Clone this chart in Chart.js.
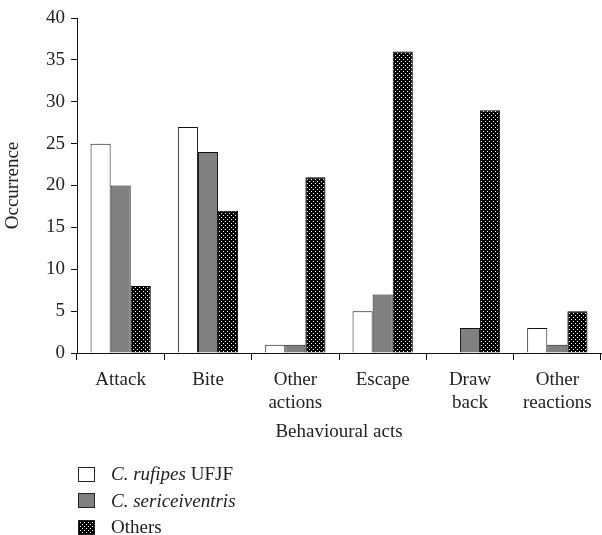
<!DOCTYPE html>
<html>
<head>
<meta charset="utf-8">
<script src="https://cdn.jsdelivr.net/npm/chart.js@4/dist/chart.umd.min.js"></script>
<style>
body{margin:0;background:#fff;}
#wrap{position:relative;width:602px;height:535px;}
#legend{position:absolute;left:78px;top:461px;font-family:"Liberation Serif",serif;font-size:19px;color:#222;}
.row{height:26.5px;display:flex;align-items:center;}
.sw{width:15px;height:13px;border:1px solid #222;margin-right:16px;box-sizing:content-box;}
canvas.sw{display:block;}
</style>
</head>
<body>
<div id="wrap">
<canvas id="chart" width="602" height="535"></canvas>
<div id="legend">
<div class="row"><div class="sw" style="background:#fff"></div><span><i>C. rufipes</i> UFJF</span></div>
<div class="row"><div class="sw" style="background:#808080"></div><span><i>C. sericeiventris</i></span></div>
<div class="row"><canvas class="sw" id="swatch" width="15" height="13"></canvas><span>Others</span></div>
</div>
</div>
<script>

const acts = [["Attack"],["Bite"],["Other","actions"],["Escape"],["Draw","back"],["Other","reactions"]];
const rufipes = [25,27,1,5,0,3];
const sericeiventris = [20,24,1,7,3,1];
const others = [8,17,21,36,29,5];
const yTicks = [0,5,10,15,20,25,30,35,40];

// dotted black fill for "Others"
function makePattern(){
const t=document.createElement("canvas");
t.width=4;t.height=4;
const c=t.getContext("2d");
c.fillStyle="#000";c.fillRect(0,0,4,4);
c.fillStyle="#fff";
c.fillRect(1,1,1,1);
c.fillRect(3,3,1,1);
return c.createPattern(t,"repeat");
}
const dots = makePattern();

const sw=document.getElementById("swatch").getContext("2d");
sw.fillStyle=dots;sw.fillRect(0,0,15,13);

const serif = "'Liberation Serif', serif";

new Chart("chart",{

type:"bar",

data:{
labels:acts,

datasets:[{
label:"C. rufipes UFJF",
data:rufipes,
backgroundColor:"#fff",
borderColor:"#111",
borderWidth:1
},{
label:"C. sericeiventris",
data:sericeiventris,
backgroundColor:"#808080",
borderColor:"#111",
borderWidth:1
},{
label:"Others",
data:others,
backgroundColor:dots,
borderColor:"#000",
borderWidth:1
}]
},

options:{
responsive:false,
animation:false,
layout:{padding:{left:2,right:1,top:18,bottom:92}},
categoryPercentage:0.69,
barPercentage:1,
plugins:{legend:{display:false},tooltip:{enabled:false}},
scales:{
x:{
afterFit:function(s){s.height=90;},
grid:{display:true,drawOnChartArea:false,color:"#111",tickLength:7,offset:true},
border:{color:"#111",width:1},
ticks:{color:"#222",font:{family:serif,size:19},padding:9,maxRotation:0,autoSkip:false},
title:{display:true,text:"Behavioural acts",color:"#222",font:{family:serif,size:19},padding:{top:4,bottom:0}}
},
y:{
min:0,max:40,
afterBuildTicks:function(axis){axis.ticks=yTicks.map(v=>({value:v}));},
afterFit:function(s){s.width=75;},
grid:{display:true,drawOnChartArea:false,color:"#111",tickLength:6},
border:{color:"#111",width:1},
ticks:{color:"#222",font:{family:serif,size:19},padding:6},
title:{display:true,text:"Occurrence",color:"#222",font:{family:serif,size:19},padding:{top:0,bottom:4}}
}
}
}

});

</script>
</body>
</html>
